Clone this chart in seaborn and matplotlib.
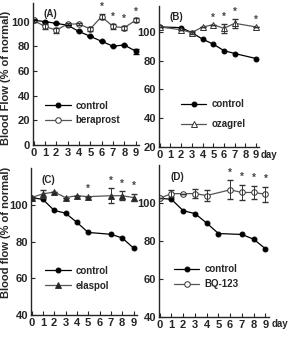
import numpy as np
import pandas as pd
import matplotlib
matplotlib.use('Agg')
import matplotlib.pyplot as plt
import seaborn as sns

# data (% of normal blood flow per day)
days_a = [0, 1, 2, 3, 4, 5, 6, 7, 8, 9]
ctrl_a = [101, 100, 98.5, 97, 92, 88, 84, 80, 81, 76]
ctrl_a_err = [0, 0, 0, 0, 0, 0, 0, 0, 0, 2]
bera = [101, 96, 93, 98, 98, 94, 104, 96, 95, 101]
bera_err = [1, 2, 2, 1, 1, 1.5, 2, 2, 1.5, 1.5]
stars_a = [6, 7, 8, 9]

days_b_ctrl = [0, 2, 3, 4, 5, 6, 7, 9]
ctrl_b = [103.5, 103, 99.5, 95, 91.5, 87, 85, 81.5]
days_b = [0, 2, 3, 4, 5, 6, 7, 9]
ozag = [103.5, 101.5, 99.5, 103.5, 105, 102.5, 106, 103.5]
ozag_err = [0, 0, 1, 0, 0, 3, 3, 0]
stars_b = [5, 6, 7, 9]

days_c_ctrl = [0, 1, 2, 3, 4, 5, 7, 8, 9]
ctrl_c = [104, 103, 97, 95.5, 90.5, 85, 84, 82, 76.5]
days_c = [0, 1, 2, 3, 4, 5, 7, 8, 9]
elas = [104, 106, 107, 104, 105, 104.5, 105, 105, 104]
elas_err = [0, 2, 0, 0, 0, 0, 4, 2.5, 2]
stars_c = [5, 7, 8, 9]

days_d_ctrl = [0, 1, 2, 3, 4, 5, 7, 8, 9]
ctrl_d = [102.6, 102, 96, 94.5, 89.5, 84, 83.5, 81, 76]
days_d = [0, 1, 2, 3, 4, 6, 7, 8, 9]
bq = [102.6, 105, 105, 105, 104, 107, 105.6, 105.6, 104.7]
bq_err = [0, 2, 0, 2.5, 3, 5, 4, 3.5, 4]
stars_d = [6, 7, 8, 9]

sns.set_style('ticks')
plt.rcParams['font.family'] = ['Liberation Sans', 'DejaVu Sans']
plt.rcParams['font.weight'] = 'bold'
plt.rcParams['font.size'] = 7

fig = plt.figure(figsize=(2.92, 3.37), dpi=100)
ax_a = fig.add_axes([0.113, 0.570, 0.363, 0.421])
ax_b = fig.add_axes([0.545, 0.564, 0.343, 0.418])
ax_c = fig.add_axes([0.106, 0.065, 0.363, 0.436])
ax_d = fig.add_axes([0.545, 0.059, 0.376, 0.451])


def panel(ax, cd, cv, td, tv, terr, stars, treat, tmarker, tfill, ylim, yticks, label, leg_xy,
          cerr=None, spacing=0.5):
    df_c = pd.DataFrame({'day': cd, 'flow': cv})
    df_t = pd.DataFrame({'day': td, 'flow': tv})
    sns.lineplot(data=df_c, x='day', y='flow', ax=ax, color='black', lw=0.9,
                 marker='o', markersize=3.5, markerfacecolor='black',
                 markeredgecolor='black', label='control')
    sns.lineplot(data=df_t, x='day', y='flow', ax=ax, color='#555555', lw=0.9,
                 marker=tmarker, markersize=4, markerfacecolor=tfill,
                 markeredgecolor='#333333', markeredgewidth=0.7, label=treat)
    ax.errorbar(td, tv, yerr=terr, fmt='none', ecolor='#333333', elinewidth=0.7, capsize=2)
    if cerr is not None:
        ax.errorbar(cd, cv, yerr=cerr, fmt='none', ecolor='black', elinewidth=0.7, capsize=2)
    for s in stars:
        i = list(td).index(s)
        ax.text(s, tv[i] + terr[i] + 1.5, '*', ha='center', va='bottom', fontsize=7, color='#444444')
    ax.set_xlim(-0.05, 9.3)
    ax.set_ylim(*ylim)
    ax.set_xticks(range(10))
    ax.set_yticks(yticks)
    ax.tick_params(direction='in', length=3, width=0.8, pad=2, labelsize=8)
    ax.set_xlabel('')
    ax.set_ylabel('')
    sns.despine(ax=ax)
    for sp in ax.spines.values():
        sp.set_linewidth(1.0)
    ax.text(0.10, 0.92, label, transform=ax.transAxes, fontsize=7, ha='left', va='center')
    ax.legend(loc='lower left', bbox_to_anchor=leg_xy, frameon=False, fontsize=7,
              handlelength=2.6, handletextpad=0.5, labelspacing=spacing, borderaxespad=0)


panel(ax_a, days_a, ctrl_a, days_a, bera, bera_err, stars_a, 'beraprost', 'o', 'white',
      (0, 115), [0, 20, 40, 60, 80, 100], '(A)', (0.08, 0.11), cerr=ctrl_a_err)
panel(ax_b, days_b_ctrl, ctrl_b, days_b, ozag, ozag_err, stars_b, 'ozagrel', '^', 'white',
      (20, 118), [20, 40, 60, 80, 100], '(B)', (0.18, 0.10), spacing=1.0)
panel(ax_c, days_c_ctrl, ctrl_c, days_c, elas, elas_err, stars_c, 'elaspol', '^', '#222222',
      (40, 120), [40, 60, 80, 100], '(C)', (0.10, 0.14))
panel(ax_d, days_d_ctrl, ctrl_d, days_d, bq, bq_err, stars_d, 'BQ-123', 'o', 'white',
      (40, 120), [40, 60, 80, 100], '(D)', (0.10, 0.16))

fig.text(0.02, 0.77, 'Blood Flow (% of normal)', rotation=90, ha='center', va='center', fontsize=8)
fig.text(0.02, 0.31, 'Blood flow (% of normal)', rotation=90, ha='center', va='center', fontsize=8)
fig.text(0.92, 0.54, 'day', ha='center', va='center', fontsize=7)
fig.text(0.96, 0.04, 'day', ha='center', va='center', fontsize=7)

fig.savefig('out.png', dpi=100)
